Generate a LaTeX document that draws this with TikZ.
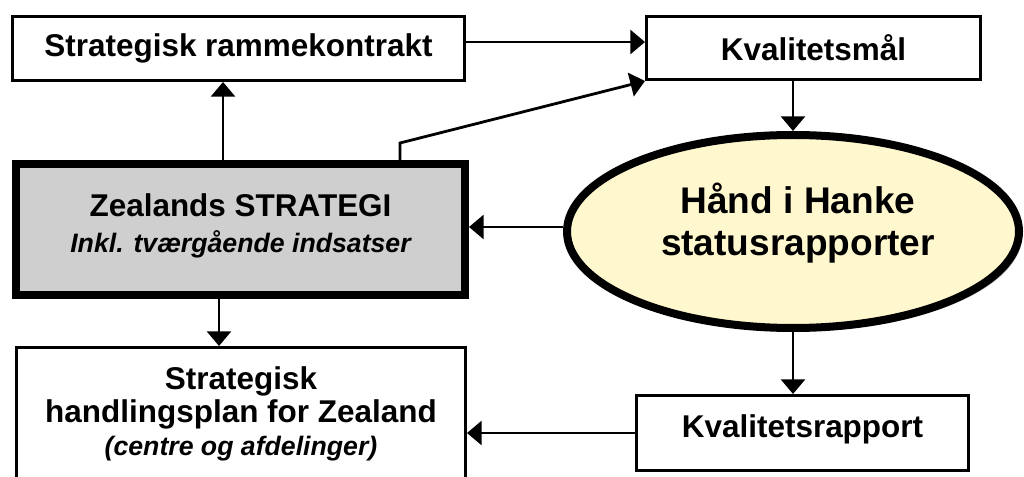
\documentclass[tikz,border=0pt]{standalone}
\usepackage{fontspec}
\setmainfont{Liberation Sans}
\usetikzlibrary{arrows.meta,shapes.geometric,shadows}
\definecolor{eyellow}{HTML}{FFF8CF}
\definecolor{cgray}{HTML}{CFCFCF}
\begin{document}
\begin{tikzpicture}[x=0.75pt,y=-0.75pt,
  box/.style={draw, line width=2.25pt, inner sep=0pt, align=center,
    font=\bfseries\fontsize{23.6}{25}\selectfont},
  mainbox/.style={box, line width=6pt, fill=cgray},
  oval/.style={ellipse, draw, line width=6pt, fill=eyellow, inner sep=0pt,
    drop shadow={shadow xshift=2.5pt, shadow yshift=-2.5pt, opacity=0.3, fill=black}},
  ovaltext/.style={align=center, inner sep=0pt, font=\bfseries\fontsize{27.8}{31.5}\selectfont},
  arr/.style={line width=2.1pt, -{Triangle[length=11pt,width=18pt]}}
]
\useasboundingbox (0,0) rectangle (1024,477);
\clip (0,0) rectangle (1024,477);

\node[box, minimum width=339pt, minimum height=48pt] (A) at (238.5,48.5) {Strategisk rammekontrakt};
\node[box, minimum width=250.5pt, minimum height=47.25pt] (B) at (813.5,48) {Kvalitetsmål};
\node[mainbox, minimum width=336.75pt, minimum height=98.25pt] (C) at (240.5,229.5) {};
\node[box, draw=none, align=center] (Ct) at (240.5,225.5)
  {Zealands STRATEGI\\[2pt]{\bfseries\itshape\fontsize{20}{24}\selectfont Inkl. tværgående indsatser}};
\node[box, minimum width=336.75pt, minimum height=99.75pt] (D) at (241,414)
  {Strategisk\\handlingsplan for Zealand\\{\bfseries\itshape\fontsize{20}{24}\selectfont (centre og afdelinger)}};
\node[box, minimum width=249pt, minimum height=56.25pt, text depth=10pt] (E) at (802.5,433) {Kvalitetsrapport};
\node[oval, minimum width=339pt, minimum height=144.75pt] (H) at (793,231.5) {};
\node[ovaltext] (Ht) at (798,223) {Hånd i Hanke\\statusrapporter};

\coordinate (k) at (400,143);
\draw[arr] (A.east |- 0,42) -- (B.west |- 0,42);
\draw[arr] (C.north -| 223,0) -- (A.south -| 223,0);
\draw[arr] (C.north -| k) -- (k) -- (B.south west);
\draw[arr] (B.south -| H.north) -- (H.north);
\draw[arr] (H.west |- 0,227) -- (C.east |- 0,227);
\draw[arr] (C.south -| 219,0) -- (D.north -| 219,0);
\draw[arr] (H.south) -- (E.north -| H.south);
\draw[arr] (E.west) -- (D.east |- E.west);
\end{tikzpicture}
\end{document}
